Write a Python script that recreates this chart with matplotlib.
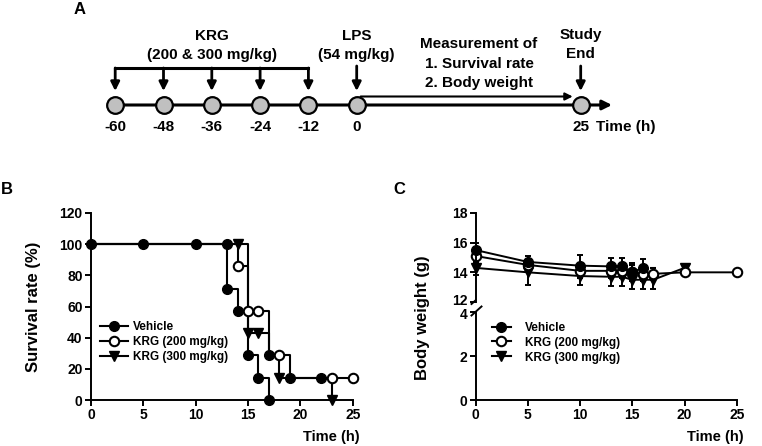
import numpy as np
import matplotlib
matplotlib.use("Agg")
from matplotlib import pyplot as plt
from matplotlib.lines import Line2D
import matplotlib.transforms as mtransforms

plt.rcParams['font.family'] = ['Liberation Sans', 'DejaVu Sans']
plt.rcParams['font.weight'] = 'bold'

# ---- Panel A: timeline ----
krg_hours = [-60, -48, -36, -24, -12]
lps_hour = 0
end_hour = 25
timeline_labels = ['-60', '-48', '-36', '-24', '-12', '0', '25']

# ---- Panel B: survival (Kaplan-Meier steps) ----
veh_t = [0, 13, 14, 15, 16, 17]
veh_s = [100, 71.4, 57.1, 28.6, 14.3, 0]
k200_t = [0, 14, 15, 17, 19, 25]
k200_s = [100, 85.7, 57.1, 28.6, 14.3, 14.3]
k300_t = [0, 15, 17, 18, 23]
k300_s = [100, 42.9, 28.6, 14.3, 0]

veh_mark_t = [0, 5, 10, 13, 13, 14, 15, 16, 17, 17, 19, 22]
veh_mark_s = [100, 100, 100, 100, 71.4, 57.1, 28.6, 14.3, 0, 28.6, 14.3, 14.3]
k200_mark_t = [14, 15, 16, 18, 23, 25]
k200_mark_s = [85.7, 57.1, 57.1, 28.6, 14.3, 14.3]
k300_mark_t = [14, 15, 16, 18, 23]
k300_mark_s = [100, 42.9, 42.9, 14.3, 0]

# ---- Panel C: body weight ----
bw_veh_t = [0, 5, 10, 13, 14, 15, 16]
bw_veh = [15.5, 14.7, 14.45, 14.4, 14.4, 14.0, 14.3]
bw_veh_err = [0.5, 0.4, 0.7, 0.6, 0.6, 0.6, 0.6]
bw_200_t = [0, 5, 10, 13, 14, 15, 16, 17, 20, 25]
bw_200 = [15.1, 14.5, 14.1, 14.1, 14.1, 14.0, 13.9, 13.9, 14.0, 14.0]
bw_200_err = [0.4, 0.4, 0.5, 0.5, 0.5, 0.5, 0.5, 0.4, 0, 0]
bw_300_t = [0, 5, 10, 13, 14, 15, 16, 17, 20]
bw_300 = [14.3, 14.0, 13.75, 13.7, 13.7, 13.5, 13.5, 13.5, 14.3]
bw_300_err = [0.5, 0.85, 0.6, 0.6, 0.6, 0.65, 0.65, 0.6, 0]

legend_labels = ['Vehicle', 'KRG (200 mg/kg)', 'KRG (300 mg/kg)']

W, H = 762, 446
fig = plt.figure(figsize=(W / 100, H / 100), dpi=100)

# overlay in pixel coordinates for the diagram and panel letters
ov = fig.add_axes([0, 0, 1, 1])
ov.set_xlim(0, W)
ov.set_ylim(H, 0)
ov.axis('off')


def hx(h):
    # timeline x position (pixels); 25 h is drawn off-scale
    return 580.7 if h == end_hour else 356.7 + h * 48.3 / 12


line_y = 105
ov.annotate('', xy=(612, line_y), xytext=(hx(-60), line_y),
            arrowprops=dict(arrowstyle='-|>', lw=2.2, color='k',
                            mutation_scale=14, shrinkA=0, shrinkB=0))
ov.annotate('', xy=(hx(end_hour) - 8, 96.5), xytext=(hx(0) + 4, 96.5),
            arrowprops=dict(arrowstyle='-|>', lw=1.5, color='k',
                            mutation_scale=11, shrinkA=0, shrinkB=0))
all_h = krg_hours + [lps_hour, end_hour]
ov.plot([hx(h) for h in all_h], [line_y] * len(all_h), ls='none',
        marker='o', ms=12, mfc='#c0c0c0', mec='k', mew=1.6, zorder=5)
for h, lab in zip(all_h, timeline_labels):
    ov.text(hx(h), 127, lab, ha='center', va='center', fontsize=11)
ov.text(596, 127, 'Time (h)', ha='left', va='center', fontsize=11)

# KRG bracket
ov.plot([hx(krg_hours[0]), hx(krg_hours[-1])], [68, 68], color='k', lw=2.2,
        solid_capstyle='projecting')
for h in krg_hours + [lps_hour, end_hour]:
    top = 68 if h in krg_hours else 66
    ov.annotate('', xy=(hx(h), 91), xytext=(hx(h), top),
                arrowprops=dict(arrowstyle='-|>', lw=2.0, color='k',
                                mutation_scale=13, shrinkA=0, shrinkB=0))
ov.text(hx(-36), 36, 'KRG', ha='center', va='center', fontsize=11)
ov.text(hx(-36), 55, '(200 & 300 mg/kg)', ha='center', va='center', fontsize=11)
ov.text(hx(0), 36, 'LPS', ha='center', va='center', fontsize=11)
ov.text(hx(0), 55, '(54 mg/kg)', ha='center', va='center', fontsize=11)
ov.text(479, 43.5, 'Measurement of', ha='center', va='center', fontsize=11)
ov.text(479, 63.5, '1. Survival rate', ha='center', va='center', fontsize=11)
ov.text(479, 83.5, '2. Body weight', ha='center', va='center', fontsize=11)
ov.text(hx(end_hour), 35, 'Study', ha='center', va='center', fontsize=11)
ov.text(hx(end_hour), 53.5, 'End', ha='center', va='center', fontsize=11)

ov.text(79.5, 9, 'A', ha='center', va='center', fontsize=12)
ov.text(7, 190, 'B', ha='center', va='center', fontsize=12)
ov.text(399, 190, 'C', ha='center', va='center', fontsize=12)


def px_axes(left, right, top, bottom):
    return fig.add_axes([left / W, 1 - bottom / H, (right - left) / W,
                         (bottom - top) / H])


def style(ax):
    for s in ['top', 'right']:
        ax.spines[s].set_visible(False)
    for s in ['left', 'bottom']:
        ax.spines[s].set_linewidth(1.4)
    ax.tick_params(direction='out', length=4, width=1.4, labelsize=10, pad=2)
    for lab in ax.get_xticklabels() + ax.get_yticklabels():
        lab.set_fontweight('bold')


def step_xy(t, s):
    xs, ys = [t[0]], [s[0]]
    for i in range(1, len(t)):
        xs += [t[i], t[i]]
        ys += [s[i - 1], s[i]]
    return xs, ys


# ---- Panel B ----
axb = px_axes(91, 352.7, 213, 400)
for t, s in [(k300_t, k300_s), (k200_t, k200_s), (veh_t, veh_s)]:
    xs, ys = step_xy(t, s)
    axb.plot(xs, ys, color='k', lw=1.5, clip_on=False)
axb.plot(k300_mark_t, k300_mark_s, ls='none', marker='v', ms=7.5, color='k',
         clip_on=False, zorder=4)
axb.plot(k200_mark_t, k200_mark_s, ls='none', marker='o', ms=6.8, mfc='white',
         mec='k', mew=1.5, clip_on=False, zorder=4)
axb.plot(veh_mark_t, veh_mark_s, ls='none', marker='o', ms=7, color='k',
         clip_on=False, zorder=5)
axb.set_xlim(0, 25)
axb.set_ylim(0, 120)
axb.set_xticks([0, 5, 10, 15, 20, 25])
axb.set_yticks([0, 20, 40, 60, 80, 100, 120])
style(axb)
axb.set_ylabel('Survival rate (%)', fontsize=12, fontweight='bold')
axb.yaxis.set_label_coords(-0.19, 0.5)
axb.text(1.028, -0.196, 'Time (h)', transform=axb.transAxes, ha='right',
         va='center', fontsize=10.5)

handles = [
    Line2D([], [], color='k', lw=1.5, marker='o', ms=7),
    Line2D([], [], color='k', lw=1.5, marker='o', ms=6.8, mfc='white', mew=1.5),
    Line2D([], [], color='k', lw=1.5, marker='v', ms=7.5),
]
axb.legend(handles, legend_labels, loc='upper left', bbox_to_anchor=(0.035, 0.423),
           frameon=False, fontsize=8.5, handlelength=2.4, handletextpad=0.4,
           labelspacing=0.25, borderpad=0, borderaxespad=0)

# ---- Panel C (broken y axis) ----
axu = px_axes(475.7, 736.7, 213, 302)
axl = px_axes(475.7, 736.7, 312, 400)
series = [
    (bw_300_t, bw_300, bw_300_err, dict(marker='v', ms=7.5, mfc='k', mec='k')),
    (bw_200_t, bw_200, bw_200_err, dict(marker='o', ms=6.8, mfc='white', mec='k', mew=1.5)),
    (bw_veh_t, bw_veh, bw_veh_err, dict(marker='o', ms=7, mfc='k', mec='k')),
]
for t, v, e, kw in series:
    axu.errorbar(t, v, yerr=e, color='k', lw=1.4, elinewidth=1.4, capsize=2.5,
                 capthick=1.4, clip_on=False, **kw)
axu.set_xlim(0, 25)
axu.set_ylim(12, 18)
axu.set_yticks([12, 14, 16, 18])
axu.set_xticks([])
axu.spines['bottom'].set_visible(False)
style(axu)
axu.tick_params(axis='x', length=0)

axl.set_xlim(0, 25)
axl.set_ylim(0, 4)
axl.set_yticks([0, 2, 4])
axl.set_xticks([0, 5, 10, 15, 20, 25])
style(axl)
axl.text(1.028, -0.42, 'Time (h)', transform=axl.transAxes, ha='right',
         va='center', fontsize=10.5)
axl.legend(handles, legend_labels, loc='upper left', bbox_to_anchor=(0.061, 0.89),
           frameon=False, fontsize=8.5, handlelength=1.6, handletextpad=1.2,
           labelspacing=0.25, borderpad=0, borderaxespad=0)

# nudge the "12" and "4" labels apart around the axis break
lab12 = axu.yaxis.get_major_ticks()[0].label1
lab12.set_transform(lab12.get_transform() +
                    mtransforms.ScaledTranslation(0, 2.5 / 100, fig.dpi_scale_trans))
lab4 = axl.yaxis.get_major_ticks()[-1].label1
lab4.set_transform(lab4.get_transform() +
                   mtransforms.ScaledTranslation(0, -1.5 / 100, fig.dpi_scale_trans))

# break marks on left spine
ov.plot([471.5, 481.5], [304, 295], color='k', lw=1.4)
ov.plot([471.5, 481.5], [315.5, 306.5], color='k', lw=1.4)
fig.text(423 / W, 1 - 318 / H, 'Body weight (g)', rotation=90, ha='center',
         va='center', fontsize=12, fontweight='bold')

fig.savefig('out.png', dpi=100)
